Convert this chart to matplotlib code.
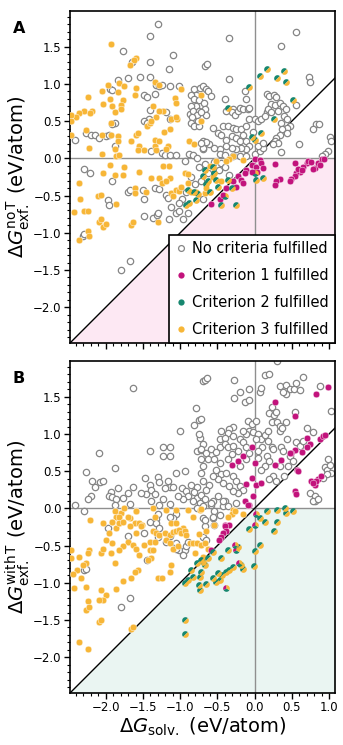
import numpy as np
import matplotlib
matplotlib.use("Agg")
import matplotlib.pyplot as plt
from matplotlib.path import Path
from matplotlib.lines import Line2D
from matplotlib.ticker import MultipleLocator

# ---------------- DATA (eV/atom): (dG_solv, dG_exf) ----------------
A_none = [(-1.30,1.80),(-1.40,1.65),(-1.77,1.44),(-1.41,1.30),(-1.09,1.39),(-1.15,1.20),(-1.65,1.29),
 (-1.70,1.08),(-1.54,1.09),(-1.41,1.09),(-1.84,1.05),(-1.94,0.93),(-1.91,0.92),
 (-1.32,0.98),(-1.29,0.97),(-1.24,0.98),(-1.48,0.85),(-1.45,0.82),(-1.34,0.86),
 (-1.13,0.97),(-1.02,0.97),(-1.41,0.65),(-1.42,0.53),(-1.49,0.50),(-1.45,0.47),
 (-1.19,0.62),(-1.14,0.53),(-0.87,0.59),
 (-0.81,0.93),(-0.79,0.85),(-0.86,0.85),(-0.82,0.80),(-0.75,0.79),(-0.79,0.71),(-0.86,0.71),(-0.83,0.64),
 (-0.75,0.64),(-0.78,0.58),(-0.84,0.55),(-0.86,0.48),(-0.81,0.44),(-0.75,0.44),(-0.76,0.50),
 (-1.87,0.48),(-1.91,0.46),(-2.27,0.34),(-2.20,0.32),(-2.14,0.31),(-2.09,0.28),(-2.00,0.30),(-1.95,0.32),
 (-1.88,0.16),(-2.41,0.25),(-1.39,0.10),(-1.24,0.07),(-1.20,0.04),(-1.14,0.04),(-1.06,0.04),
 (-0.94,-0.03),(-0.88,0.06),(-0.83,0.04),(-0.78,0.00),(-2.29,-0.14),(-2.21,-0.19),(-0.69,0.23),(-0.70,0.12),
 (0.55,1.70),(-0.34,1.62),(0.36,1.51),(-0.66,1.24),(-0.64,1.27),(-0.34,1.06),(0.73,1.09),(0.75,1.03),
 (-0.74,0.94),(-0.70,0.97),(-0.65,0.93),(-0.62,0.90),(-0.58,0.84),(-0.13,0.91),(-0.11,0.80),
 (-0.68,0.75),(-0.67,0.67),(-0.65,0.58),(-0.72,0.62),(-0.40,0.80),
 (-0.29,0.67),(-0.31,0.62),(-0.27,0.58),(-0.22,0.64),(-0.19,0.68),(-0.16,0.67),(-0.09,0.66),(-0.08,0.68),(-0.38,0.64),
 (-0.42,0.43),(-0.36,0.44),(-0.29,0.41),(-0.25,0.39),(-0.18,0.40),(-0.12,0.43),
 (-0.07,0.53),(0.00,0.53),(0.05,0.50),(0.09,0.53),
 (0.16,0.87),(0.20,0.84),(0.26,0.85),(0.29,0.82),(0.22,0.73),(0.28,0.72),(0.34,0.75),(0.38,0.71),(0.42,0.67),
 (0.31,0.64),(0.16,0.62),(0.14,0.57),(0.18,0.67),(0.22,0.62),(0.40,0.57),(0.44,0.53),(0.36,0.48),
 (0.47,0.43),(0.44,0.41),(0.37,0.39),(0.43,0.34),(0.34,0.32),(0.29,0.28),(0.27,0.23),(0.31,0.21),(0.25,0.19),
 (0.56,0.72),(0.83,0.46),(0.86,0.46),(0.79,0.40),(0.60,0.20),(0.36,0.08),(1.01,0.29),(1.03,0.24),
 (0.99,0.10),(0.94,0.06),(0.90,0.03),
 (-0.56,0.41),(-0.49,0.34),(-0.45,0.31),(-0.38,0.25),(-0.31,0.30),(-0.25,0.27),(-0.20,0.24),(-0.16,0.32),
 (-0.11,0.23),(-0.02,0.35),(-0.07,0.16),(-0.11,0.12),(-0.18,0.14),(-0.25,0.12),(-0.31,0.14),(-0.38,0.16),
 (-0.47,0.12),(-0.54,0.14),(-0.61,0.19),(-0.65,0.22),(-0.70,0.14),(-0.72,0.21),(-0.47,0.06),(-0.40,0.05),
 (-0.29,0.03),(-0.20,0.03),(-0.11,0.03),(0.00,0.06),(0.07,0.10),(0.11,0.14),(0.05,0.16),(0.11,0.21),
 (-1.91,-0.31),(-1.97,-0.56),(-1.96,-0.62),(-1.70,-0.45),(-1.68,-0.42),(-1.48,-0.54),(-1.50,-0.42),
 (-1.34,-0.40),(-1.28,-0.41),(-1.37,-0.80),(-1.31,-0.76),(-1.30,-0.73),(-1.48,-0.77),(-1.15,-0.81),
 (-1.12,-0.65),(-1.05,-0.73),(-1.02,-0.71),(-1.19,-0.49),(-1.17,-0.53),(-0.96,-0.81),(-0.90,-0.74),
 (-2.31,-1.04),(-2.29,-1.01),(-1.79,-1.50),(-1.68,-1.38),
 (-0.85,-0.25),(-0.80,-0.35),(-0.72,-0.30),(-0.62,-0.20),(-0.55,-0.05),(-0.66,-0.08),(-0.75,-0.12),
 (-0.45,-0.06),(-0.40,-0.12),(-0.48,-0.16),(-0.35,-0.22),(-0.92,-0.45),(-0.98,-0.55),(-1.02,-0.60),(-0.70,-0.55)]

A_crit1 = [(0.00,-0.01),(0.07,-0.02),(-0.04,-0.09),(0.02,-0.11),(0.09,-0.06),(0.11,-0.13),(0.03,-0.18),
 (-0.04,-0.18),(-0.11,-0.16),(-0.13,-0.20),(-0.22,-0.24),(-0.18,-0.29),(-0.16,-0.33),(-0.29,-0.31),
 (-0.25,-0.38),(-0.38,-0.40),(-0.58,-0.61),(-0.47,-0.54),(-0.43,-0.49),(0.27,-0.07),(0.54,-0.06),
 (0.34,-0.28),(0.29,-0.30),(0.27,-0.36),(0.70,-0.06),(0.72,-0.04),(0.76,-0.05),(0.81,-0.13),(0.85,-0.06),
 (0.90,-0.01),(0.93,-0.01),(0.88,-0.09),(0.65,-0.11),(0.61,-0.18),(0.56,-0.20),(0.54,-0.24),(0.49,-0.28),
 (0.47,-0.31),(0.58,-0.14),(0.63,-0.15),(0.79,-0.14)]

A_crit3 = [(-1.93,1.54),(-1.59,1.35),(-1.62,1.32),(-1.68,1.25),(-1.97,0.98),(-1.82,1.01),(-1.75,0.97),
 (-2.05,0.90),(-1.59,0.94),(-1.83,0.89),(-1.94,0.80),(-1.77,0.79),(-1.61,0.85),(-2.24,0.83),(-2.04,0.73),
 (-1.91,0.71),(-1.80,0.72),(-1.79,0.67),(-1.88,0.62),(-2.29,0.64),(-2.36,0.61),(-2.40,0.56),(-2.47,0.58),
 (-2.47,0.50),(-2.18,0.64),(-2.21,0.61),(-1.93,0.48),(-2.27,0.38),(-2.05,0.32),(-1.93,0.31),(-1.83,0.30),
 (-2.47,0.31),(-1.83,0.24),(-2.23,0.14),(-2.05,0.06),(-1.87,0.12),(-1.86,0.03),(-1.82,0.05),(-1.66,0.23),
 (-1.59,0.31),(-1.56,0.34),(-1.55,0.17),(-1.56,0.11),(-1.49,0.11),(-1.45,0.44),(-1.41,0.48),(-1.34,1.02),
 (-1.28,0.98),(-1.37,0.71),(-1.33,0.55),(-1.39,0.50),(-1.23,0.63),(-1.29,0.64),(-1.34,0.25),(-1.34,0.17),
 (-1.33,0.11),(-1.29,0.24),(-1.16,0.16),(-1.19,0.13),(-1.22,0.35),(-1.14,0.40),(-1.12,0.53),(-1.04,0.53),
 (-1.06,0.56),(-1.07,0.81),(-1.05,0.75),(-0.99,0.93),(-0.88,0.23),(-0.82,0.20),(-1.94,-0.09),(-1.76,-0.12),
 (-2.04,-0.20),(-1.87,-0.22),(-1.77,-0.22),(-1.55,-0.18),(-1.23,-0.10),(-1.15,-0.10),(-0.94,-0.19),
 (-0.90,-0.21),(-0.72,0.85),(-0.72,0.50),(-0.29,0.03),(-0.34,-0.01),(-0.38,-0.04),(-0.16,-0.02),
 (-0.67,-0.47),(-0.65,-0.40),(-0.52,-0.04),(-2.36,-0.33),(-2.35,-0.54),(-2.42,-0.72),(-2.29,-0.71),
 (-2.24,-0.71),(-2.11,-0.51),(-2.06,-0.49),(-1.86,-0.61),(-2.09,-0.85),(-2.06,-0.81),(-2.03,-0.92),
 (-2.00,-0.88),(-1.66,-0.89),(-1.64,-0.86),(-2.24,-0.97),(-2.22,-1.04),(-2.36,-1.10),(-1.61,-0.40),
 (-1.61,-0.47),(-1.46,-0.45),(-1.30,-0.85),(-1.39,-0.27),(-1.28,-0.27),(-1.14,-0.27),(-1.25,-0.33),
 (-1.19,-0.31),(-1.12,-0.47),(-1.10,-0.51),(-1.05,-0.42),(-1.01,-0.44),(-0.99,-0.38),(-0.90,-0.33),
 (-0.86,-0.45),(-0.79,-0.45),(-0.60,-0.10),(-0.56,-0.25),(-0.45,-0.30)]

A_crit23 = [(0.16,1.20),(0.07,1.11),(0.40,1.18),(0.30,1.08),(0.42,1.03),(-0.08,0.96),(0.52,0.79),
 (-0.36,0.68),(0.26,0.53),(0.08,0.34),(-0.04,0.29),(0.00,0.25),
 (-0.56,-0.11),(-0.67,-0.15),(-0.54,-0.20),(-0.70,-0.24),(-0.52,-0.29),(-0.65,-0.34),(-0.49,-0.38),
 (-0.36,-0.29),(-0.31,-0.40),(0.11,-0.27),(0.02,-0.29),(-0.45,-0.63),(-0.25,-0.63),
 (-0.90,-0.42),(-0.82,-0.45),(-0.76,-0.48),(-0.92,-0.62),(-0.88,-0.60),(-0.79,-0.56),(-0.60,-0.45),(-0.62,-0.30)]

A_crit123 = [(0.00,-0.20),(-0.40,-0.50)]

B_none = [(-1.64,1.62),(-0.69,1.71),(-0.79,1.35),(-0.75,1.19),(-0.81,1.12),(-1.00,1.04),(-0.74,0.95),
 (-0.75,1.00),(-1.41,0.77),(-1.23,0.82),(-1.14,0.82),(-1.23,0.70),(-1.14,0.70),(-0.77,0.77),(-0.72,0.79),
 (-2.09,0.74),(-1.88,0.54),(-2.27,0.49),(-2.18,0.37),(-2.14,0.29),(-2.08,0.35),(-2.04,0.37),(-1.47,0.41),
 (-1.30,0.42),(-1.28,0.35),(-1.06,0.47),(-0.94,0.50),(-1.41,0.32),(-1.39,0.25),(-1.46,0.20),(-1.52,0.21),
 (-1.16,0.37),(-1.14,0.29),(-1.21,0.28),(-1.09,0.29),(-1.84,0.28),(-1.93,0.22),(-1.95,0.16),(-1.91,0.15),
 (-1.86,0.12),(-1.77,0.14),(-1.70,0.21),(-1.64,0.29),(-2.20,0.16),(-2.24,0.12),(-2.41,0.04),(-2.29,-0.03),
 (-1.88,0.04),(-1.68,0.06),(-1.34,0.19),(-1.39,0.10),(-1.28,0.04),(-1.14,0.06),(-1.23,0.12),
 (-0.98,0.28),(-0.92,0.23),(-0.90,0.16),(-0.85,0.31),(-0.78,0.29),(-0.82,0.22),(-0.78,0.14),(-0.72,0.18),
 (-0.83,0.10),(-0.74,0.07),(-0.69,0.03),(-0.78,0.00),(-0.96,0.12),(-1.03,0.16),
 (-1.05,-0.08),(-1.10,-0.13),(-1.14,-0.11),(-1.30,-0.08),(-1.32,-0.14),(-1.41,-0.18),(-1.32,-0.19),
 (-1.68,-1.20),(-1.79,-1.32),(-2.29,-0.83),(-2.26,-0.81),(-1.97,-0.27),(-1.70,-0.37),(-1.48,-0.33),
 (-1.28,-0.27),(-1.30,-0.39),(-1.19,-0.45),(-1.14,-0.37),(-1.05,-0.47),(-1.01,-0.56),(-0.94,-0.56),
 (-0.92,-0.51),(-0.96,-0.63),(-0.90,-0.45),(-1.05,-0.54),(-1.45,-0.70),
 (-0.70,-0.13),(-0.67,-0.24),(-0.56,-0.13),(-0.54,-0.22),(-0.70,-0.38),(-0.65,-0.43),(0.81,0.10),
 (-0.59,0.05),(-0.56,0.10),(-0.40,0.10),(-0.43,0.03),
 (0.30,1.98),(0.14,1.79),(0.19,1.81),(-0.28,1.73),(-0.67,1.72),(-0.64,1.75),(-0.20,1.56),(-0.07,1.60),
 (-0.28,1.48),(-0.13,1.43),(-0.07,1.45),(0.07,1.57),(0.09,1.62),(0.34,1.65),(0.42,1.66),(0.48,1.60),
 (0.53,1.61),(0.61,1.59),(0.65,1.77),(0.56,1.69),(0.42,1.53),(0.38,1.56),(0.88,1.65),(1.03,1.31),
 (0.54,1.29),(0.23,1.36),(0.20,1.28),(0.26,1.25),(0.29,1.29),(0.23,1.16),(0.30,1.16),(0.34,1.11),
 (0.42,1.16),(0.34,1.04),(0.37,1.08),(-0.09,1.18),(-0.04,1.13),(0.02,1.18),(-0.07,1.04),(-0.02,1.02),
 (-0.11,1.00),(-0.29,1.09),(-0.34,1.07),(-0.36,1.01),(-0.29,0.97),(-0.45,1.04),(-0.47,0.93),(-0.40,0.95),
 (-0.72,1.20),(-0.70,0.86),(-0.72,0.80),(-0.65,0.75),(-0.58,0.80),(-0.52,0.76),(-0.47,0.82),(-0.40,0.86),
 (-0.36,0.82),(-0.29,0.84),(-0.22,0.77),(-0.20,0.93),(-0.16,0.89),
 (0.05,1.00),(0.09,0.93),(0.14,0.98),(0.18,0.91),(0.23,0.83),(0.25,0.80),(0.10,0.82),(0.05,0.77),
 (0.16,0.70),(0.20,0.64),(0.14,0.57),(0.05,0.68),(0.09,0.52),(0.36,0.83),(0.43,0.93),(0.38,0.77),
 (0.47,0.70),(0.52,0.64),(0.45,0.57),(0.34,0.57),(0.25,0.43),(0.29,0.37),(0.19,0.39),
 (0.78,1.02),(0.70,1.08),(0.56,0.89),(0.61,0.84),(0.65,0.91),
 (0.94,0.55),(0.97,0.52),(1.01,0.58),(1.03,0.48),(0.97,0.46),(0.92,0.41),(0.99,0.66),
 (0.74,0.21),(0.81,0.16),(0.79,0.10),(0.85,0.12),
 (-0.52,0.52),(-0.45,0.46),(-0.38,0.48),(-0.29,0.43),(-0.25,0.37),(-0.20,0.30),(-0.16,0.25),(-0.22,0.21),
 (-0.29,0.23),(-0.34,0.30),(-0.43,0.34),(-0.49,0.39),(-0.56,0.43),(-0.61,0.32),(-0.65,0.25),(-0.70,0.37),
 (-0.72,0.48),(-0.67,0.12),(-0.58,0.07),(-0.49,0.16),(-0.43,0.10),(-0.36,0.03),(-0.25,0.07),
 (-0.54,-0.04),(-0.47,-0.09),(-0.56,-0.11),(-0.67,-0.15),(-0.72,0.66),
 (-0.11,0.66),(-0.20,0.57),(-0.07,0.75),(0.02,0.93),(0.18,1.04),(-0.16,1.04),(-0.11,0.82),(0.40,0.43),
 (-0.70,0.57),(-0.63,0.66),(-0.54,0.66),(-0.47,0.61),(-0.36,0.66),(-0.31,0.73)]

B_crit1 = [(0.27,1.43),(0.82,1.53),(0.98,1.63),(0.54,1.24),(-0.03,0.82),(0.70,0.94),(0.74,0.86),(0.71,0.83),
 (0.88,0.93),(0.92,0.97),(0.94,0.99),(0.54,0.79),(0.63,0.76),(0.49,0.75),(0.47,0.74),(0.35,0.65),
 (0.28,0.58),(0.57,0.52),(0.58,0.50),(-0.16,0.70),(-0.22,0.64),(-0.31,0.58),(0.00,0.61),(-0.04,0.41),
 (0.02,0.31),(0.09,0.34),(-0.11,0.33),(-0.02,0.17),(-0.13,0.10),(-0.08,0.04),(0.54,0.23),(0.55,0.19),
 (0.76,0.37),(0.81,0.31),(0.85,0.39),(0.89,0.44),(0.82,0.37),(0.79,0.34),
 (-0.40,-0.22),(-0.34,-0.22),(-0.09,0.05),(-0.40,-0.24),(-0.38,-0.31),(-0.42,-0.33),(-0.45,-0.38),
 (-0.48,-0.42),(-0.58,-0.56)]

B_crit3 = [(-1.88,-0.04),(-1.79,-0.06),(-1.75,0.00),(-1.86,-0.11),(-1.82,-0.19),(-1.92,-0.18),(-1.68,-0.13),
 (-1.59,-0.04),(-1.61,-0.20),(-1.55,-0.19),(-1.51,-0.22),(-2.04,-0.20),(-2.21,-0.15),(-1.37,0.00),
 (-1.34,-0.11),(-1.19,-0.02),(-1.05,-0.02),(-0.90,-0.02),(-0.83,-0.12),(-0.74,-0.02),(-1.12,-0.20),
 (-1.05,-0.19),(-0.96,-0.27),(-1.59,-0.03),(-1.70,-0.12),(-1.82,-0.11),(-1.91,-0.18),(-1.95,-0.33),
 (-1.86,-0.27),(-1.82,-0.20),(-1.77,-0.18),(-1.68,-0.23),(-1.52,-0.23),(-1.59,-0.33),(-1.37,-0.31),
 (-1.32,-0.33),(-1.28,-0.36),(-1.21,-0.33),(-1.14,-0.36),(-1.10,-0.32),(-1.05,-0.31),(-1.01,-0.29),
 (-0.99,-0.33),(-0.94,-0.31),(-0.92,-0.36),(-1.19,-0.42),(-1.14,-0.47),(-1.10,-0.54),(-1.03,-0.51),
 (-0.87,-0.47),(-0.83,-0.47),(-0.78,-0.47),(-1.70,-0.45),(-1.64,-0.49),(-1.59,-0.54),(-1.77,-0.51),
 (-1.82,-0.56),(-1.93,-0.60),(-2.06,-0.60),(-2.22,-0.56),(-2.24,-0.60),(-2.36,-0.65),(-2.47,-0.56),
 (-2.47,-0.66),(-2.27,-0.73),(-2.31,-0.76),(-2.38,-0.83),(-2.44,-0.88),(-2.33,-0.93),(-2.42,-1.07),
 (-2.27,-1.06),(-1.91,-0.47),(-1.87,-0.73),(-2.04,-0.55),(-2.00,-0.42),(-1.41,-0.56),(-1.37,-0.56),
 (-1.39,-0.67),(-1.43,-0.70),(-1.55,-0.63),(-1.57,-0.83),(-1.61,-0.85),(-1.66,-0.93),(-1.77,-0.98),
 (-1.86,-1.08),(-2.06,-1.10),(-2.00,-1.17),(-2.04,-1.23),(-2.09,-1.23),(-2.24,-1.24),(-2.27,-1.37),
 (-2.23,-1.33),(-2.09,-1.53),(-2.06,-1.50),(-1.66,-1.62),(-1.64,-1.59),(-2.36,-1.80),(-2.24,-1.89),
 (-1.30,-0.93),(-1.25,-0.94),(-1.12,-0.76),(-1.14,-0.85),(-1.48,-0.49),(-1.41,-0.45),(-1.34,-0.45),
 (-0.29,-0.02),(-0.31,-0.08),(-0.16,-0.07),(-0.72,-0.49),(-0.67,-0.47),(-0.72,-0.01),(-0.36,-0.11),
 (-0.27,-0.04),(-0.54,-0.22),(-0.75,-0.35),(-0.65,-0.30),(-0.62,-0.55),(-0.80,-0.60),(-0.70,-0.65)]

B_crit23 = [(0.16,-0.04),(0.30,-0.02),(0.41,0.00),(0.42,-0.06),(0.52,-0.04),(0.07,-0.13),(0.14,-0.18),
 (0.30,-0.18),(0.26,-0.31),(-0.08,-0.28),(0.07,-0.49),(0.00,-0.57),(-0.01,-0.78),(-0.22,-0.52),
 (-0.36,-0.56),(-0.45,-0.67),(-0.56,-0.58),(-0.18,-0.76),(-0.16,-0.81),(-0.29,-0.79),(-0.34,-0.83),
 (-0.38,-0.85),(-0.49,-0.87),(-0.44,-0.90),(-0.56,-0.94),(-0.52,-0.99),(-0.46,-0.96),(-0.65,-1.01),
 (-0.74,-1.09),(-0.63,-0.67),(-0.70,-0.72),(-0.67,-0.76),(-0.94,-1.50),(-0.93,-1.69),(-0.78,-0.74),
 (-0.72,-0.70),(-0.83,-0.92),(-0.90,-0.96),(-0.94,-1.00),(-0.86,-0.83),(-0.72,-0.86),(-0.75,-1.03),
 (-0.74,-0.92)]

B_crit123 = [(0.00,-0.22),(-0.26,-0.49),(-0.25,-0.56),(-0.21,-0.73),(-0.38,-1.07),(0.02,-0.08)]

legend_labels = ["No criteria fulfilled", "Criterion 1 fulfilled",
                 "Criterion 2 fulfilled", "Criterion 3 fulfilled"]
ylabels = [r"$\Delta G^{\rm no\,T}_{\rm exf.}$ (eV/atom)",
           r"$\Delta G^{\rm with\,T}_{\rm exf.}$ (eV/atom)"]
xlabel = r"$\Delta G_{\rm solv.}$ (eV/atom)"
panel_letters = ["A", "B"]

# ---------------- STYLE ----------------
C_GRAY = "#858585"
C_MAG = "#c2137c"
C_TEAL = "#17876f"
C_ORA = "#f7b637"
FILL = ["#fde8f3", "#eaf5f2"]
XLIM = (-2.48, 1.08)
YLIM = (-2.48, 1.98)
S = 21


def sector(a0, a1, n=40):
    t = np.radians(np.linspace(a0, a1, n))
    v = np.column_stack([np.r_[0, np.cos(t), 0], np.r_[0, np.sin(t), 0]])
    return Path(v)


M_T2 = sector(45, 225)
M_O2 = sector(225, 405)
M_M3 = sector(90, 210)
M_T3 = sector(210, 330)
M_O3 = sector(330, 450)


def xy(pts):
    a = np.array(pts, dtype=float)
    return a[:, 0], a[:, 1]


fig = plt.figure(figsize=(3.43, 7.45), dpi=100)
W, H = 343.0, 745.0
axA = fig.add_axes([70 / W, 1 - 343 / H, 265 / W, 332 / H])
axB = fig.add_axes([70 / W, 1 - 693 / H, 265 / W, 332 / H])

panels = [
    (axA, A_none, A_crit1, A_crit3, A_crit23, A_crit123),
    (axB, B_none, B_crit1, B_crit3, B_crit23, B_crit123),
]

for i, (ax, none, c1, c3, c23, c123) in enumerate(panels):
    xs = np.array([XLIM[0], 0.0, XLIM[1]])
    ax.fill_between(xs, [XLIM[0], 0.0, 0.0], YLIM[0], color=FILL[i], lw=0, zorder=0)
    ax.axhline(0, color="#8f8f8f", lw=1.0, zorder=1)
    ax.axvline(0, color="#8f8f8f", lw=1.0, zorder=1)
    ax.plot([XLIM[0], XLIM[1]], [XLIM[0], XLIM[1]], color="black", lw=1.0, zorder=1.5)

    x, y = xy(none)
    ax.scatter(x, y, s=S, facecolors="white", edgecolors=C_GRAY, linewidths=0.9, zorder=2)
    x, y = xy(c3)
    ax.scatter(x, y, s=S + 2, color=C_ORA, edgecolors="white", linewidths=0.3, zorder=3)
    x, y = xy(c1)
    ax.scatter(x, y, s=S + 2, color=C_MAG, edgecolors="white", linewidths=0.3, zorder=3)
    x, y = xy(c23)
    ax.scatter(x, y, s=S + 2, marker=M_T2, color=C_TEAL, linewidths=0, zorder=4)
    ax.scatter(x, y, s=S + 2, marker=M_O2, color=C_ORA, linewidths=0, zorder=4)
    x, y = xy(c123)
    ax.scatter(x, y, s=S + 2, marker=M_M3, color=C_MAG, linewidths=0, zorder=4)
    ax.scatter(x, y, s=S + 2, marker=M_T3, color=C_TEAL, linewidths=0, zorder=4)
    ax.scatter(x, y, s=S + 2, marker=M_O3, color=C_ORA, linewidths=0, zorder=4)

    ax.set_xlim(*XLIM)
    ax.set_ylim(*YLIM)
    ax.xaxis.set_major_locator(MultipleLocator(0.5))
    ax.yaxis.set_major_locator(MultipleLocator(0.5))
    ax.xaxis.set_minor_locator(MultipleLocator(0.1))
    ax.yaxis.set_minor_locator(MultipleLocator(0.1))
    ax.tick_params(which="major", direction="out", length=4, width=1, labelsize=8.5,
                   top=False, right=False, pad=2)
    ax.tick_params(which="minor", direction="out", length=2.2, width=0.8, top=False, right=False)
    for sp in ax.spines.values():
        sp.set_linewidth(1.2)
    ax.set_ylabel(ylabels[i], fontsize=14, labelpad=1)
    fig.text(13 / W, 1 - (33 if i == 0 else 383) / H, panel_letters[i],
             fontsize=11.5, fontweight="bold", va="baseline", ha="left")

axA.tick_params(labelbottom=False)
axB.set_xlabel(xlabel, fontsize=14, labelpad=1)

handles = [
    Line2D([], [], ls="none", marker="o", ms=4.2, mfc="white", mec=C_GRAY, mew=0.9),
    Line2D([], [], ls="none", marker="o", ms=4.5, mfc=C_MAG, mec="none"),
    Line2D([], [], ls="none", marker="o", ms=4.5, mfc=C_TEAL, mec="none"),
    Line2D([], [], ls="none", marker="o", ms=4.5, mfc=C_ORA, mec="none"),
]
leg = axA.legend(handles, legend_labels, loc="lower right", fontsize=10.5, frameon=True,
                 fancybox=False, framealpha=1, edgecolor="black", borderaxespad=0,
                 handlelength=0.8, handletextpad=0.4, labelspacing=0.82, borderpad=0.4)
leg.get_frame().set_linewidth(1.2)
leg.set_zorder(10)

fig.savefig("out.png", dpi=100)
